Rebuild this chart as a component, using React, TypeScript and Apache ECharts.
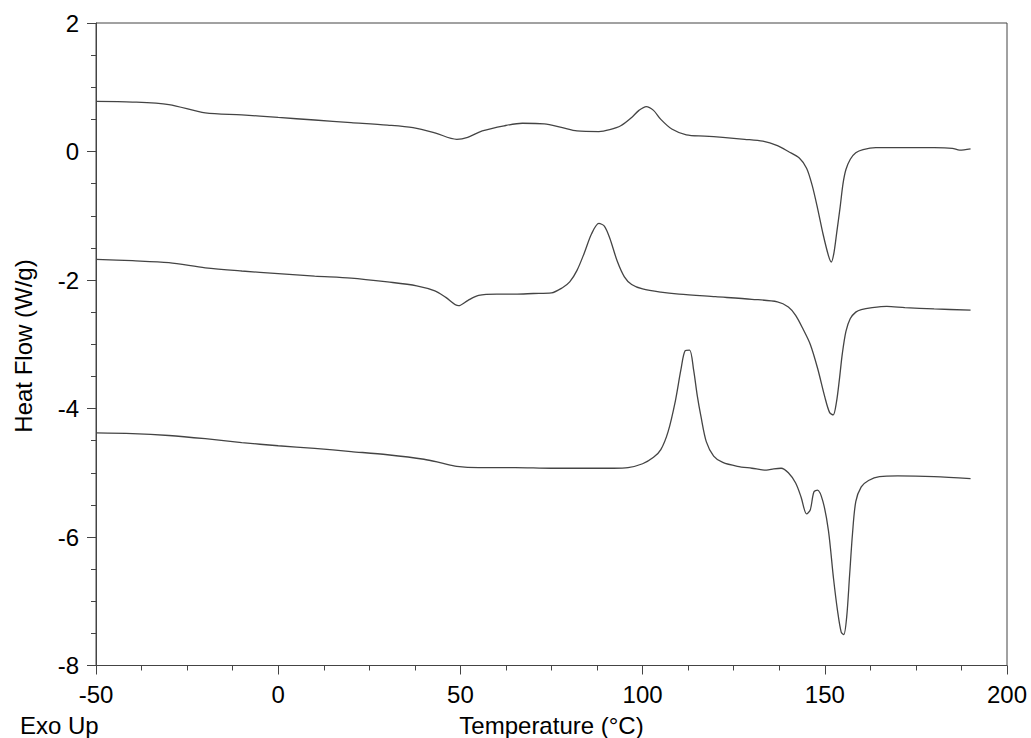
import * as echarts from "echarts";
import React, { useEffect, useRef } from "react";

// three DSC runs, temperature (°C) vs heat flow (W/g)
const temp1 = [-50, -40, -30, -20, -10, 0, 10, 20, 30, 37, 43, 49, 52, 56, 62, 67, 73, 78, 82, 88, 91, 94, 97, 99, 101, 103, 105, 108, 112, 117, 122, 128, 133, 137, 140, 143, 145, 146.5, 148, 149.5, 151, 151.8, 152.5, 153.3, 154.2, 155, 155.8, 157, 158.5, 160.5, 164, 170, 175, 180, 185, 187, 190];
const flow1 = [0.78, 0.77, 0.73, 0.6, 0.57, 0.53, 0.49, 0.45, 0.41, 0.37, 0.29, 0.19, 0.22, 0.32, 0.4, 0.44, 0.43, 0.37, 0.32, 0.31, 0.34, 0.4, 0.53, 0.64, 0.7, 0.64, 0.5, 0.35, 0.26, 0.24, 0.22, 0.19, 0.16, 0.09, 0.0, -0.1, -0.26, -0.52, -0.88, -1.28, -1.62, -1.72, -1.58, -1.25, -0.87, -0.5, -0.28, -0.12, -0.02, 0.03, 0.06, 0.06, 0.06, 0.06, 0.05, 0.02, 0.04];

const temp2 = [-50, -40, -30, -20, -10, 0, 10, 20, 30, 38, 43, 46, 49.5, 52, 55, 60, 65, 70, 75, 78, 80, 82, 84, 86, 88, 89.5, 91, 93, 95, 97, 100, 105, 110, 120, 130, 137, 140, 142, 144, 146, 148, 150, 151.3, 152.3, 153.2, 154, 154.8, 155.8, 157, 158.5, 160, 163, 167, 172, 180, 190];
const flow2 = [-1.68, -1.7, -1.73, -1.81, -1.86, -1.9, -1.94, -1.97, -2.03, -2.09, -2.17, -2.27, -2.4, -2.32, -2.24, -2.22, -2.22, -2.21, -2.2, -2.12, -2.03, -1.85, -1.58, -1.28, -1.12, -1.16, -1.35, -1.7, -1.95, -2.07, -2.14, -2.19, -2.22, -2.26, -2.3, -2.34, -2.42, -2.55, -2.76, -3.0, -3.37, -3.82, -4.06, -4.1, -3.9, -3.55, -3.15, -2.8, -2.6, -2.5, -2.46, -2.43, -2.41, -2.43, -2.45, -2.47];

const temp3 = [-50, -40, -30, -20, -10, 0, 10, 20, 30, 40, 45, 49, 55, 65, 75, 85, 92, 96, 100, 103, 105, 107, 109, 110.5, 111.7, 112.9, 114, 115, 116, 117.5, 119.5, 122, 126, 130, 134, 136, 138, 140, 142, 143.5, 145, 146, 147, 148, 149.5, 151, 152.4, 153.5, 154.5, 155.2, 156, 156.8, 157.6, 158.5, 160, 162, 165, 170, 180, 190];
const flow3 = [-4.38, -4.39, -4.42, -4.47, -4.53, -4.58, -4.62, -4.67, -4.72, -4.79, -4.85, -4.9, -4.92, -4.92, -4.93, -4.93, -4.93, -4.92, -4.86, -4.76, -4.64, -4.36, -3.88, -3.4, -3.1, -3.09, -3.4, -3.8, -4.12, -4.52, -4.74, -4.84, -4.9, -4.93, -4.96, -4.94, -4.93, -5.0, -5.16, -5.38, -5.64, -5.58, -5.3, -5.27, -5.45, -5.9, -6.65, -7.15, -7.48, -7.52, -7.25, -6.6, -5.95, -5.45, -5.22, -5.12, -5.06, -5.05, -5.06, -5.09];

const xTicks = [-50, 0, 50, 100, 150, 200];
const yTicks = [-8, -6, -4, -2, 0, 2];

const FONT = "'Liberation Sans', Arial, sans-serif";
const INK = "#444";

const pairs = (xs: number[], ys: number[]) => xs.map((x, i) => [x, ys[i]]);

const curve = (data: number[][]) => ({
  type: "line",
  data,
  showSymbol: false,
  smooth: 0.3,
  lineStyle: { color: "#444", width: 1.3 },
  silent: true
});

const App = () => {
  const ref = useRef<HTMLDivElement>(null);

  useEffect(() => {
    document.body.style.margin = "0";
    const chart = echarts.init(ref.current, null, { renderer: "svg" });
    chart.setOption({
      animation: false,
      backgroundColor: "#fff",
      textStyle: { fontFamily: FONT },
      grid: {
        left: 96,
        right: 24,
        top: 23,
        bottom: 72.5,
        show: true,
        borderColor: INK,
        borderWidth: 1
      },
      xAxis: {
        type: "value",
        min: xTicks[0],
        max: xTicks[xTicks.length - 1],
        interval: 50,
        axisLine: { onZero: false, lineStyle: { color: INK, width: 1 } },
        axisTick: { length: 9, lineStyle: { color: INK } },
        minorTick: { show: true, splitNumber: 4, length: 5, lineStyle: { color: INK } },
        splitLine: { show: false },
        axisLabel: { color: "#000", fontSize: 24, fontFamily: FONT, margin: 17 }
      },
      yAxis: {
        type: "value",
        min: yTicks[0],
        max: yTicks[yTicks.length - 1],
        interval: 2,
        axisLine: { show: true, onZero: false, lineStyle: { color: INK, width: 1 } },
        axisTick: { show: true, length: 9, lineStyle: { color: INK } },
        minorTick: { show: true, splitNumber: 4, length: 5, lineStyle: { color: INK } },
        splitLine: { show: false },
        axisLabel: { color: "#000", fontSize: 24, fontFamily: FONT, margin: 17 }
      },
      graphic: [
        {
          type: "text",
          x: 23,
          y: 346,
          rotation: Math.PI / 2,
          style: {
            text: "Heat Flow (W/g)",
            fill: "#000",
            font: `24px ${FONT}`,
            align: "center",
            verticalAlign: "middle"
          }
        },
        {
          type: "text",
          x: 551.5,
          y: 737,
          style: {
            text: "Temperature (°C)",
            fill: "#000",
            font: `24px ${FONT}`,
            align: "center",
            verticalAlign: "bottom"
          }
        },
        {
          type: "text",
          x: 20,
          y: 737,
          style: {
            text: "Exo Up",
            fill: "#000",
            font: `24px ${FONT}`,
            align: "left",
            verticalAlign: "bottom"
          }
        }
      ],
      series: [
        curve(pairs(temp1, flow1)),
        curve(pairs(temp2, flow2)),
        curve(pairs(temp3, flow3))
      ]
    });
    return () => {
      chart.dispose();
    };
  }, []);

  return <div ref={ref} style={{ width: 1031, height: 738 }}></div>;
};

export default App;
